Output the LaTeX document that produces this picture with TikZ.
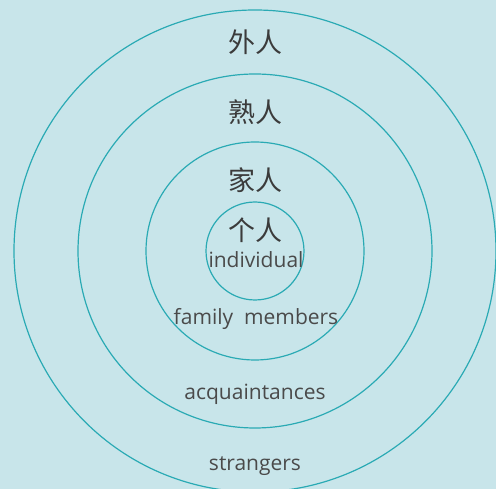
\documentclass[tikz,border=0pt]{standalone}
\usepackage{fontspec}
\setmainfont{Open Sans}
\newfontfamily\cjk{Noto Sans CJK SC}
\definecolor{bg}{HTML}{C8E5EA}
\definecolor{ring}{HTML}{2AAAB4}
\definecolor{txt}{HTML}{4A4A4A}
\begin{document}
\begin{tikzpicture}[x=1pt,y=-1pt,
  ringstyle/.style={circle,draw=ring,line width=1.2pt,inner sep=0pt},
  zh/.style={anchor=base,text=txt!80!black,font=\cjk\fontsize{27}{27}\selectfont,inner sep=0pt},
  en/.style={anchor=base,text=txt,font=\fontsize{21}{21}\selectfont,inner sep=0pt}]
\fill[bg] (0,0) rectangle (496,489);
\useasboundingbox (0,0) rectangle (496,489);
\node[ringstyle,minimum size=482pt] (outer) at (255,251) {};
\node[ringstyle,minimum size=354pt] (acq) at (255,251) {};
\node[ringstyle,minimum size=218pt] (fam) at (255,251) {};
\node[ringstyle,minimum size=98pt] (ind) at (255,251) {};
\node[zh] (wai) at (255,53) {外人};
\node[zh] (shu) at (255,123) {熟人};
\node[zh] (jia) at (255,191) {家人};
\node[zh] (ge) at (255,241) {个人};
\node[en] (l1) at (256,268) {individual};
\node[en] (l2) at (256,325) {family\ \ members};
\node[en] (l3) at (255,400) {acquaintances};
\node[en] (l4) at (255,470) {strangers};
\end{tikzpicture}
\end{document}
